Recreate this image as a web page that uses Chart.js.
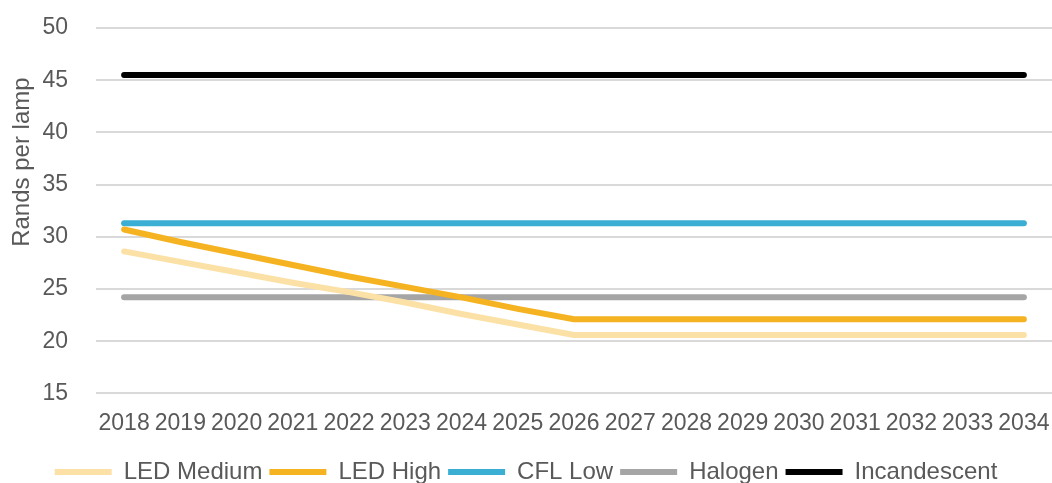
<!DOCTYPE html>
<html>
<head>
<meta charset="utf-8">
<script src="https://cdn.jsdelivr.net/npm/chart.js@4.4.1/dist/chart.umd.min.js"></script>
<style>
  html, body { margin: 0; padding: 0; background: #ffffff; }
  #wrap { width: 1052px; height: 483px; position: relative; }
</style>
</head>
<body>
<div id="wrap"><canvas id="chart"></canvas></div>
<script>
// Lamp price projections, rands per lamp
const years = ['2018','2019','2020','2021','2022','2023','2024','2025','2026',
               '2027','2028','2029','2030','2031','2032','2033','2034'];
const ledMedium    = [28.6, 27.6, 26.6, 25.6, 24.7, 23.7, 22.6, 21.6, 20.6,
                      20.6, 20.6, 20.6, 20.6, 20.6, 20.6, 20.6, 20.6];
const ledHigh      = [30.7, 29.5, 28.4, 27.3, 26.2, 25.2, 24.2, 23.1, 22.1,
                      22.1, 22.1, 22.1, 22.1, 22.1, 22.1, 22.1, 22.1];
const cflLow       = [31.3, 31.3, 31.3, 31.3, 31.3, 31.3, 31.3, 31.3, 31.3,
                      31.3, 31.3, 31.3, 31.3, 31.3, 31.3, 31.3, 31.3];
const halogen      = [24.2, 24.2, 24.2, 24.2, 24.2, 24.2, 24.2, 24.2, 24.2,
                      24.2, 24.2, 24.2, 24.2, 24.2, 24.2, 24.2, 24.2];
const incandescent = [45.5, 45.5, 45.5, 45.5, 45.5, 45.5, 45.5, 45.5, 45.5,
                      45.5, 45.5, 45.5, 45.5, 45.5, 45.5, 45.5, 45.5];
const yTitle = 'Rands per lamp';

const FONT = '"Liberation Sans", Arial, sans-serif';
const TEXT = '#595959';

function series(label, data, color) {
  return {
    label, data,
    borderColor: color, backgroundColor: color,
    borderWidth: 6, borderCapStyle: 'round', borderJoinStyle: 'round',
    pointRadius: 0, pointHoverRadius: 0, tension: 0, fill: false
  };
}

// Rotated axis title, drawn a little above the plot's vertical centre
const axisTitle = {
  id: 'axisTitle',
  afterDraw(chart) {
    const { ctx, chartArea } = chart;
    ctx.save();
    ctx.font = '24px ' + FONT;
    ctx.fillStyle = TEXT;
    ctx.textAlign = 'center';
    ctx.textBaseline = 'middle';
    ctx.translate(22, chartArea.top + chartArea.height * 0.367);
    ctx.rotate(-Math.PI / 2);
    ctx.fillText(yTitle, 0, 0);
    ctx.restore();
  }
};

new Chart(document.getElementById('chart'), {
  type: 'line',
  data: {
    labels: years,
    datasets: [
      series('LED Medium', ledMedium, '#FCE1A6'),
      series('LED High', ledHigh, '#F5B321'),
      series('CFL Low', cflLow, '#3AAFD3'),
      series('Halogen', halogen, '#A5A5A5'),
      series('Incandescent', incandescent, '#000000')
    ]
  },
  options: {
    responsive: true,
    maintainAspectRatio: false,
    animation: false,
    layout: { padding: { top: 28, right: 0, bottom: -11, left: 0 } },
    plugins: {
      tooltip: { enabled: false },
      legend: {
        position: 'bottom',
        labels: {
          usePointStyle: true,
          pointStyle: 'line',
          pointStyleWidth: 57,
          boxHeight: 24,
          color: TEXT,
          font: { family: FONT, size: 24 },
          padding: 7
        }
      }
    },
    scales: {
      x: {
        offset: true,
        afterFit(scale) { scale.paddingLeft = 0; scale.paddingRight = 0; },
        grid: { display: false, drawTicks: false },
        border: { display: false },
        ticks: {
          color: TEXT, font: { family: FONT, size: 23 },
          padding: 16, maxRotation: 0, autoSkip: false
        }
      },
      y: {
        min: 15, max: 50,
        afterFit(scale) {
          scale.width = 96;
          scale.paddingTop = 0;
          scale.paddingBottom = 0;
        },
        grid: { color: '#D9D9D9', lineWidth: 2, drawTicks: false },
        border: { display: false },
        ticks: {
          stepSize: 5, color: TEXT, font: { family: FONT, size: 23 },
          padding: 28
        }
      }
    }
  },
  plugins: [axisTitle]
});
</script>
</body>
</html>
